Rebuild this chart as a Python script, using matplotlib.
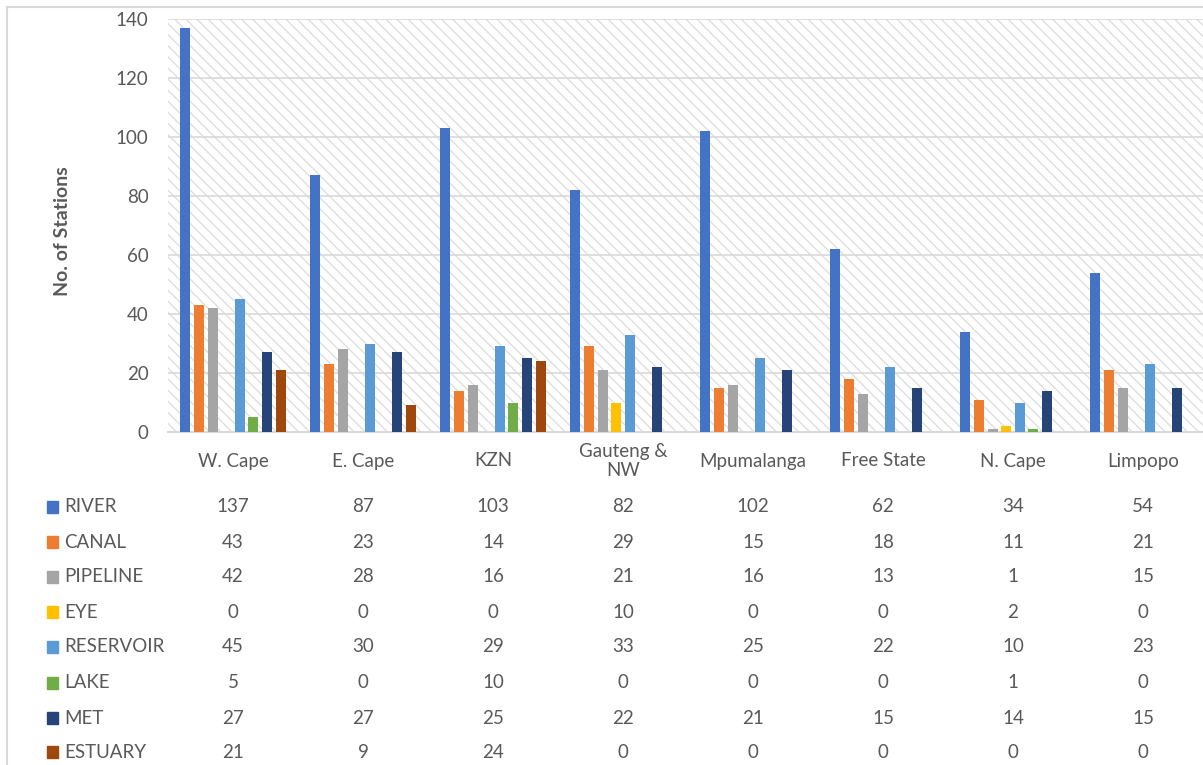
import matplotlib
matplotlib.use("Agg")
import matplotlib.pyplot as plt
from matplotlib.lines import Line2D
import numpy as np

categories = ["W. Cape", "E. Cape", "KZN", "Gauteng &\nNW", "Mpumalanga", "Free State", "N. Cape", "Limpopo"]
series_names = ["RIVER", "CANAL", "PIPELINE", "EYE", "RESERVOIR", "LAKE", "MET", "ESTUARY"]
river = [137, 87, 103, 82, 102, 62, 34, 54]
canal = [43, 23, 14, 29, 15, 18, 11, 21]
pipeline = [42, 28, 16, 21, 16, 13, 1, 15]
eye = [0, 0, 0, 10, 0, 0, 2, 0]
reservoir = [45, 30, 29, 33, 25, 22, 10, 23]
lake = [5, 0, 10, 0, 0, 0, 1, 0]
met = [27, 27, 25, 22, 21, 15, 14, 15]
estuary = [21, 9, 24, 0, 0, 0, 0, 0]
series_values = [river, canal, pipeline, eye, reservoir, lake, met, estuary]
colors = ["#4472C4", "#ED7D31", "#A5A5A5", "#FFC000", "#5B9BD5", "#70AD47", "#264478", "#9E480E"]
yticks = [0, 20, 40, 60, 80, 100, 120, 140]

plt.rcParams['font.family'] = ['Lato', 'DejaVu Sans']
plt.rcParams['hatch.color'] = '#dcdcdc'
plt.rcParams['hatch.linewidth'] = 0.9

W, H = 1203, 765
fig = plt.figure(figsize=(W / 100, H / 100), dpi=100)
fig.patch.set_facecolor('white')

x0, x1 = 168, 1208
y_top, y_bot = 19, 432
ax = fig.add_axes([x0 / W, (H - y_bot) / H, (x1 - x0) / W, (y_bot - y_top) / H])
ax.set_xlim(-0.5, len(categories) - 0.5)
ax.set_ylim(0, 140)

# hatched background
ax.patch.set_facecolor('white')
ax.fill_between([-0.5, len(categories) - 0.5], 0, 140, facecolor='white',
                hatch='\\\\\\', edgecolor='#dcdcdc', linewidth=0, zorder=0)

ax.set_yticks(yticks)
ax.yaxis.grid(True, color='#d9d9d9', linewidth=1.2, zorder=1)
ax.set_axisbelow(True)
for s in ['top', 'right', 'left']:
    ax.spines[s].set_visible(False)
ax.spines['bottom'].set_color('#d9d9d9')
ax.spines['bottom'].set_linewidth(1.5)
ax.tick_params(axis='y', length=0, labelsize=13.5, labelcolor='#595959', pad=14)
ax.tick_params(axis='x', length=0)
ax.set_xticks(range(len(categories)))
ax.set_xticklabels([])

step = 0.105
bw = 0.077
xs = np.arange(len(categories))
for j, (vals, c) in enumerate(zip(series_values, colors)):
    ax.bar(xs + (j - 3.5) * step, vals, width=bw, color=c, zorder=3)

fig.text(62 / W, (H - 231) / H, "No. of Stations", rotation=90, ha='center', va='center',
         fontsize=14, fontweight='bold', color='#595959')

def fx(xd):
    return (x0 + (xd + 0.5) * 130) / W

def fy(py):
    return (H - py) / H

# category labels
for i, cat in enumerate(categories):
    fig.text(fx(i), fy(461), cat, ha='center', va='center', fontsize=13.5,
             color='#595959', linespacing=1.1)

# data table
row_y = [507, 542, 577, 612, 647, 683, 718, 752]
for r, (name, vals, c) in enumerate(zip(series_names, series_values, colors)):
    y = row_y[r]
    fig.patches.append(plt.Rectangle((47 / W, fy(y + 6)), 11 / W, 12 / H,
                                     transform=fig.transFigure, color=c, figure=fig))
    fig.text(64 / W, fy(y), name, ha='left', va='center', fontsize=13.5, color='#595959')
    for i, v in enumerate(vals):
        fig.text(fx(i), fy(y), str(v), ha='center', va='center', fontsize=13.5, color='#595959')

# outer chart border (partial)
fig.lines.append(Line2D([7 / W, 7 / W], [0, fy(7)], transform=fig.transFigure,
                        color='#d9d9d9', linewidth=1.5))
fig.lines.append(Line2D([7 / W, 1], [fy(7), fy(7)], transform=fig.transFigure,
                        color='#d9d9d9', linewidth=1.5))

fig.savefig("out.png", dpi=100)
